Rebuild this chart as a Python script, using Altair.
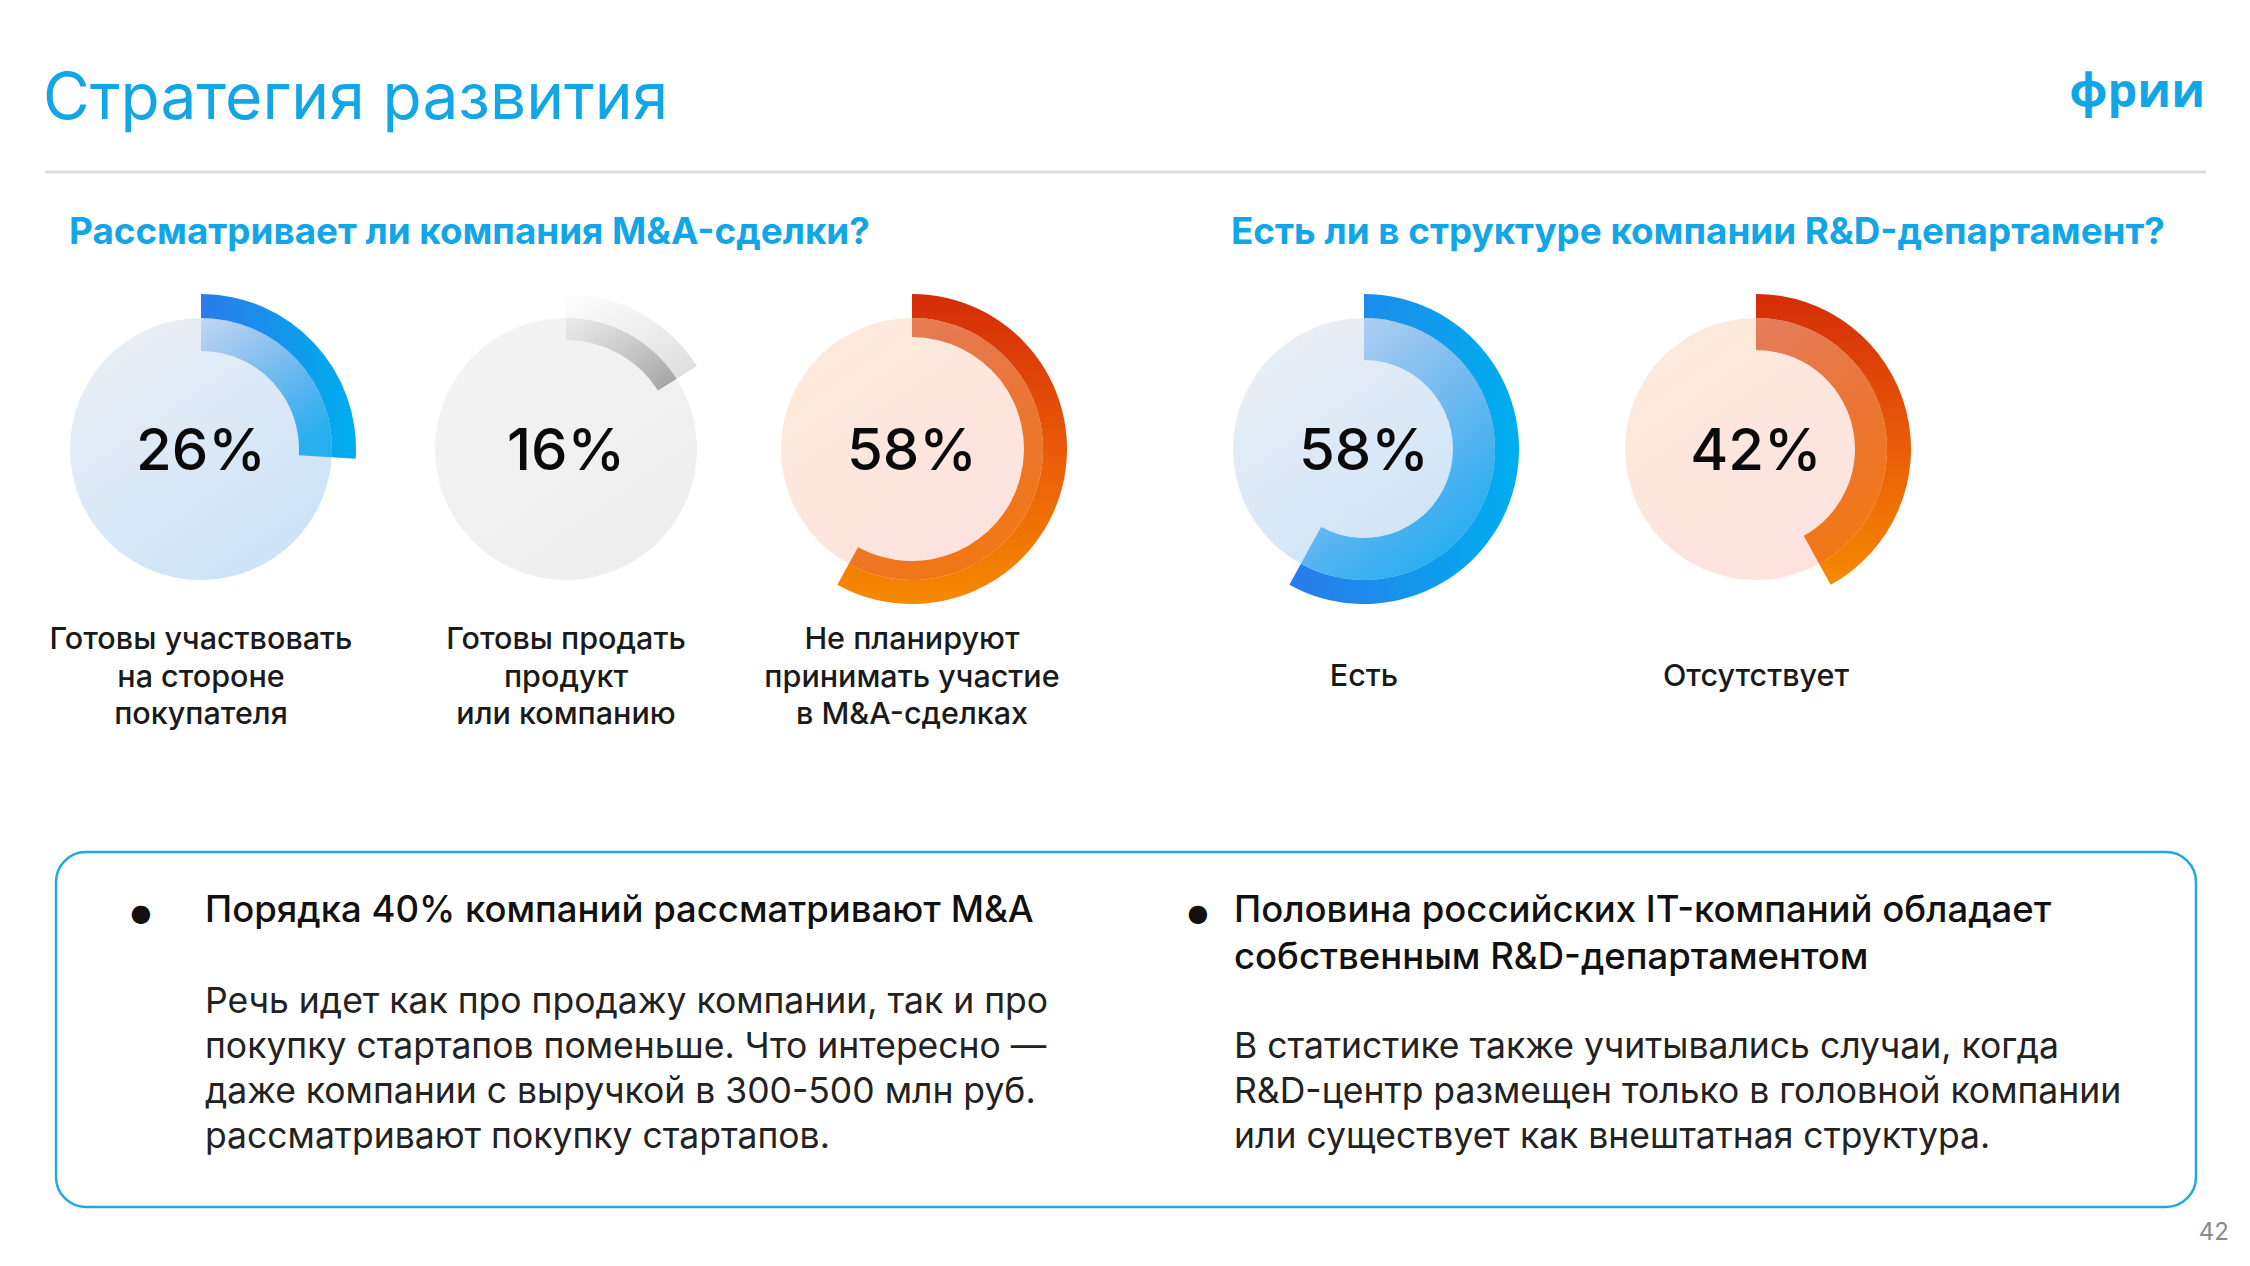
import altair as alt
import pandas as pd

# ---------------- data ----------------
title_text = "Стратегия развития"
logo_text = "фрии"
page_no = "42"

ma_question = "Рассматривает ли компания M&A-сделки?"
ma_labels = ["Готовы участвовать\nна стороне\nпокупателя",
             "Готовы продать\nпродукт\nили компанию",
             "Не планируют\nпринимать участие\nв M&A-сделках"]
ma_values = [26, 16, 58]
ma_themes = ["blue", "grey", "orange"]

rd_question = "Есть ли в структуре компании R&D-департамент?"
rd_labels = ["Есть", "Отсутствует"]
rd_values = [58, 42]
rd_themes = ["blue", "orange"]

left_head = "Порядка 40% компаний рассматривают M&A"
left_body = ("Речь идет как про продажу компании, так и про\n"
             "покупку стартапов поменьше. Что интересно —\n"
             "даже компании с выручкой в 300-500 млн руб.\n"
             "рассматривают покупку стартапов.")
right_head = "Половина российских IT-компаний обладает\nсобственным R&D-департаментом"
right_body = ("В статистике также учитывались случаи, когда\n"
              "R&D-центр размещен только в головной компании\n"
              "или существует как внештатная структура.")

# ---------------- layout (page pixels) ----------------
W, H = 2234, 1250
donut_cx = [201, 566, 912, 1364, 1756]
donut_cy = 449
inner_r = [98, 109, 112, 89, 99]
circle_r = 131
outer_r = 155
BLUE = "#12a6e6"

xs = alt.Scale(domain=[8, 8 + W], nice=False, zero=False)
ys = alt.Scale(domain=[8, 8 + H], nice=False, zero=False, reverse=True)
ts = alt.Scale(domain=[0, 100], range=[0, 6.283185307])


def X(f):
    return alt.X(f"{f}:Q", scale=xs, axis=None)


def Y(f):
    return alt.Y(f"{f}:Q", scale=ys, axis=None)


values = ma_values + rd_values
themes = ma_themes + rd_themes
labels = ma_labels + rd_labels
donuts = pd.DataFrame({
    "cx": donut_cx,
    "cy": [donut_cy] * 5,
    "pct": values,
    "theme": themes,
    "label": labels,
    "rin": inner_r,
})
donuts["zero"] = 0
donuts["full"] = 100
donuts["rc"] = circle_r
donuts["ro"] = outer_r
donuts["pct_text"] = donuts["pct"].astype(str) + "%"
donuts["ty"] = donut_cy + 21
donuts["nlines"] = donuts["label"].str.count("\n") + 1
donuts["ly"] = [649 if n == 3 else 686 for n in donuts["nlines"]]


def grad(stops, x1=0, y1=0, x2=1, y2=0):
    return alt.LinearGradient(
        gradient="linear",
        stops=[alt.GradientStop(offset=o, color=c) for o, c in stops],
        x1=x1, y1=y1, x2=x2, y2=y2)


circle_grad = {
    "blue": grad([(0, "#eef0f4"), (1, "#cbe3f8")], 0, 0, 0.7, 1),
    "grey": grad([(0, "#f4f4f4"), (1, "#eeeeee")], 0, 0, 0.7, 1),
    "orange": grad([(0, "#fdebdb"), (1, "#fde2df")], 0, 0, 0.7, 1),
}
outer_grad = {
    "blue": grad([(0, "#2a7be9"), (1, "#00aeef")], 0, 0, 1, 0),
    "grey": grad([(0, "rgba(200,200,200,0.03)"), (1, "rgba(175,175,175,0.45)")], 0, 0, 1, 1),
    "orange": grad([(0, "#d42c08"), (0.5, "#e95a08"), (1, "#f68a00")], 0, 0, 0, 1),
}
inner_grad = {
    "blue": grad([(0, "rgba(50,130,230,0.2)"), (1, "rgba(10,165,238,0.85)")], 0, 0, 0.6, 1),
    "grey": grad([(0, "rgba(170,170,170,0.1)"), (1, "rgba(150,150,150,0.9)")], 0, 0, 1, 1),
    "orange": grad([(0, "rgba(214,60,15,0.62)"), (1, "rgba(240,110,5,0.92)")], 0, 0, 0.4, 1),
}

base_d = alt.Chart(donuts)
layers = []
for th in ["blue", "grey", "orange"]:
    sub = base_d.transform_filter(alt.datum.theme == th)
    layers.append(sub.mark_arc(color=circle_grad[th]).encode(
        x=X("cx"), y=Y("cy"),
        theta=alt.Theta("zero:Q", scale=ts, stack=False), theta2=alt.Theta2("full:Q"),
        radius=alt.Radius("rc:Q", scale=None, stack=False), radius2=alt.Radius2("zero:Q")))
for th in ["blue", "grey", "orange"]:
    sub = base_d.transform_filter(alt.datum.theme == th)
    layers.append(sub.mark_arc(color=outer_grad[th]).encode(
        x=X("cx"), y=Y("cy"),
        theta=alt.Theta("zero:Q", scale=ts, stack=False), theta2=alt.Theta2("pct:Q"),
        radius=alt.Radius("ro:Q", scale=None, stack=False), radius2=alt.Radius2("rc:Q")))
    layers.append(sub.mark_arc(color=inner_grad[th]).encode(
        x=X("cx"), y=Y("cy"),
        theta=alt.Theta("zero:Q", scale=ts, stack=False), theta2=alt.Theta2("pct:Q"),
        radius=alt.Radius("rc:Q", scale=None, stack=False), radius2=alt.Radius2("rin:Q")))

FONT = "Inter"

# percentages
layers.append(base_d.mark_text(font=FONT, fontSize=58, fontWeight=500, color="#0a0a0a",
                               align="center", baseline="alphabetic").encode(
    x=X("cx"), y=Y("ty"), text="pct_text:N"))
# donut labels
layers.append(base_d.mark_text(font=FONT, fontSize=30.5, fontWeight=500, color="#1a1a1a",
                               align="center", baseline="alphabetic", lineBreak="\n",
                               lineHeight=37.5).encode(
    x=X("cx"), y=Y("ly"), text="label:N"))

# header rule
rule_df = pd.DataFrame({"x": [45], "x2": [2206], "y": [172]})
layers.append(alt.Chart(rule_df).mark_rule(color="#dedede", strokeWidth=3).encode(
    x=X("x"), x2="x2:Q", y=Y("y")))

# box
box_df = pd.DataFrame({"x": [56], "x2": [2196], "y": [852], "y2": [1207]})
layers.append(alt.Chart(box_df).mark_rect(fill="white", fillOpacity=0, stroke="#1fa8e2",
                                          strokeWidth=2.5, cornerRadius=30).encode(
    x=X("x"), x2="x2:Q", y=Y("y"), y2="y2:Q"))


def text_layer(rows, **kw):
    df = pd.DataFrame(rows, columns=["x", "y", "t"])
    return alt.Chart(df).mark_text(baseline="alphabetic", lineBreak="\n", **kw).encode(
        x=X("x"), y=Y("y"), text="t:N")


layers.append(text_layer([[43, 119, title_text]], font=FONT, fontSize=64, fontWeight=400,
                         color=BLUE, align="left"))
layers.append(text_layer([[2205, 107, logo_text]], font="Open Sans", fontSize=47, fontWeight=700,
                         color=BLUE, align="right"))
layers.append(text_layer([[69, 244, ma_question], [1231, 244, rd_question]], font=FONT,
                         fontSize=36.8, fontWeight=700, color=BLUE, align="left"))
layers.append(text_layer([[141, 921, "●"], [1198, 921, "●"]], font="DejaVu Sans",
                         fontSize=24, color="#111111", align="center"))
layers.append(text_layer([[205, 922, left_head], [1234, 922, right_head]], font=FONT,
                         fontSize=36.5, fontWeight=500, color="#111111", align="left",
                         lineHeight=46.5))
layers.append(text_layer([[205, 1013, left_body], [1234, 1058, right_body]], font=FONT,
                         fontSize=35.5, fontWeight=400, color="#222222", align="left",
                         lineHeight=45))
layers.append(text_layer([[2229, 1240, page_no]], font=FONT, fontSize=24, fontWeight=400,
                         color="#8a8a8a", align="right"))

chart = alt.layer(*layers).properties(
    width=W, height=H, autosize=alt.AutoSizeParams(type="none"), padding=0
).configure(background="white", view=alt.ViewConfig(stroke=None))

chart.save("out.html", embed_options={"renderer": "svg", "actions": False})
